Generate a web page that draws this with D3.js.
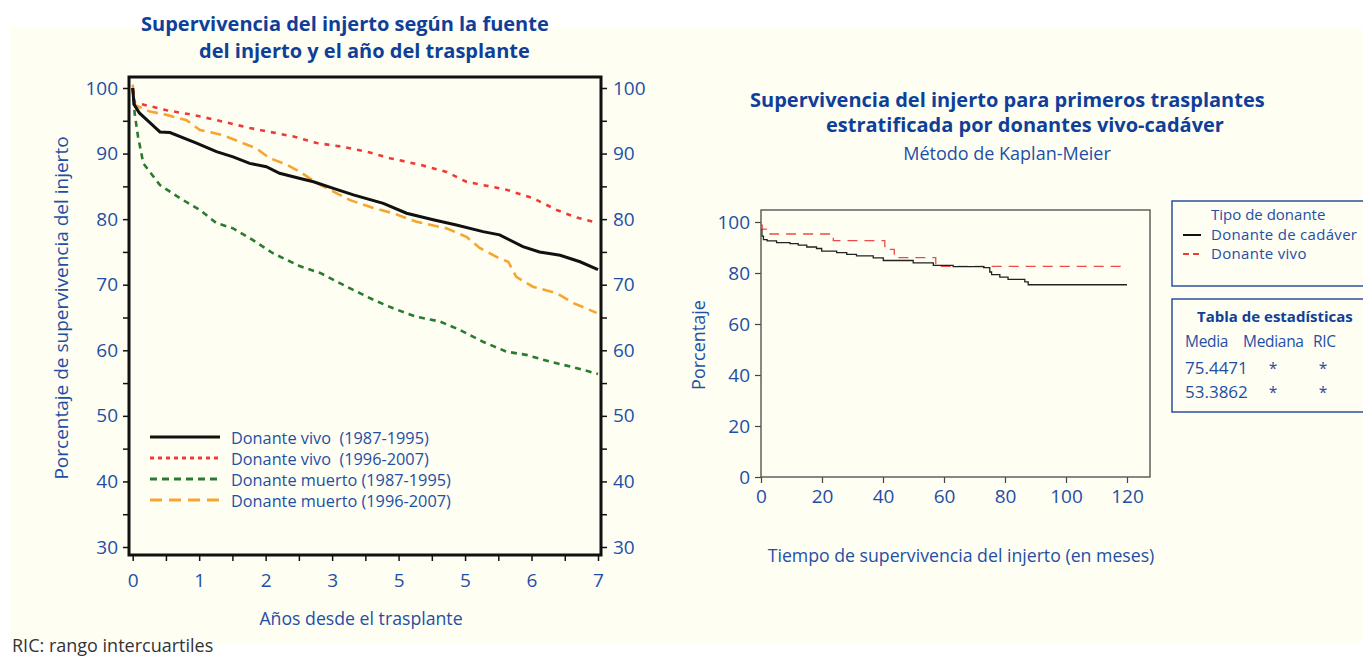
<!DOCTYPE html>
<html>
<head>
<meta charset="utf-8">
<script src="https://cdn.jsdelivr.net/npm/d3@7"></script>
<style>
  body { margin: 0; background: #fff; }
  svg text { font-family: "Open Sans", "Noto Sans", sans-serif; }
</style>
</head>
<body>
<div id="chart"></div>
<script>

// ---- left chart data (years, % survival) ----
var vivo8795 = [[0,100],[0.02,97.5],[0.1,96.2],[0.25,94.8],[0.41,93.3],[0.56,93.2],[0.96,91.6],[1.26,90.3],[1.51,89.5],[1.76,88.5],[2.01,88.0],[2.21,87.0],[2.52,86.2],[2.72,85.7],[3.02,84.7],[3.32,83.7],[3.77,82.4],[4.12,80.9],[4.52,79.9],[4.87,79.1],[5.27,78.1],[5.52,77.6],[5.87,75.8],[6.12,75.0],[6.43,74.5],[6.73,73.5],[7.0,72.3]];
var vivo9607 = [[0,100],[0.03,97.8],[0.51,96.6],[0.91,95.9],[1.26,95.1],[1.76,93.9],[2.42,92.6],[2.77,91.6],[3.12,91.1],[3.52,90.3],[3.87,89.3],[4.32,88.3],[4.72,87.2],[5.02,85.7],[5.27,85.2],[5.62,84.5],[6.02,83.2],[6.38,81.4],[6.63,80.4],[7.0,79.4]];
var muerto8795 = [[0,100],[0.03,96.1],[0.08,92.6],[0.16,88.5],[0.41,85.2],[0.71,83.2],[1.01,81.4],[1.26,79.4],[1.51,78.6],[1.81,76.8],[2.11,74.8],[2.52,72.8],[2.82,71.8],[3.22,69.7],[3.62,67.7],[3.92,66.4],[4.27,65.1],[4.62,64.4],[4.92,63.1],[5.27,61.3],[5.62,59.8],[5.92,59.3],[6.27,58.3],[6.63,57.4],[7.0,56.4]];
var muerto9607 = [[0,100.5],[0.03,97.4],[0.26,96.4],[0.51,95.9],[0.81,95.1],[1.01,93.6],[1.36,92.8],[1.61,91.8],[1.86,90.8],[2.06,89.3],[2.32,88.3],[2.52,87.2],[2.77,85.5],[3.02,84.2],[3.27,82.9],[3.62,81.7],[3.92,80.9],[4.27,79.6],[4.72,78.6],[5.02,77.3],[5.22,75.6],[5.52,74.0],[5.65,73.5],[5.77,71.2],[6.02,69.7],[6.38,68.7],[6.63,67.2],[6.98,65.7]];
var leftSeriesNames = ["Donante vivo  (1987-1995)", "Donante vivo  (1996-2007)", "Donante muerto (1987-1995)", "Donante muerto (1996-2007)"];
var leftXTicks = [0,1,2,3,4,5,6,7];
var leftXTickLabels = ["0","1","2","3","5","5","6","7"];   // as printed in the source
var leftYTicks = [30,40,50,60,70,80,90,100];

// ---- right chart data (months, %) ----
var cadaver = [[0,97],[0.3,94.5],[0.8,93.1],[2,92.6],[5.1,91.9],[9.5,91.5],[12.2,90.9],[15.0,90.2],[18.2,89.6],[19.9,88.6],[24.8,88.0],[28.1,87.3],[31.3,86.7],[36.8,85.9],[40.1,84.9],[49.9,84.0],[56.5,83.0],[63,82.5],[73,82.1],[75.0,80.4],[75.6,79.4],[78.3,78.4],[81.0,77.5],[86.5,76.5],[87.6,75.4],[120,75.4]];
var vivo = [[0,98.8],[0.4,97.2],[3.0,95.3],[23.7,92.7],[40.6,89.3],[43.7,86.0],[57.3,82.6],[120,82.6]];
var rightSeriesNames = ["Donante de cadáver", "Donante vivo"];
var rightXTicks = [0,20,40,60,80,100,120];
var rightYTicks = [0,20,40,60,80,100];
var statsHeader = ["Media", "Mediana", "RIC"];
var statsRows = [["75.4471","*","*"],["53.3862","*","*"]];

var blue = "#1f4fa5", titleBlue = "#0f3f98";

var svg = d3.select("#chart").append("svg")
    .attr("width", 1363)
    .attr("height", 659);

svg.append("rect")
    .attr("x", 10).attr("y", 27)
    .attr("width", 1353).attr("height", 616)
    .attr("fill", "#fefef3");

// ================= LEFT CHART =================
var xL = d3.scaleLinear().domain([0, 7]).range([132.7, 598]);
var yL = d3.scaleLinear().domain([30, 100]).range([547, 88]);
var fL = {x0: 129, x1: 601, y0: 77, y1: 555};

svg.append("text").attr("x", 141).attr("y", 31)
    .style("font-size", "20px").style("font-weight", "bold").attr("fill", titleBlue)
    .text("Supervivencia del injerto según la fuente");
svg.append("text").attr("x", 199).attr("y", 58)
    .style("font-size", "20px").style("font-weight", "bold").attr("fill", titleBlue)
    .text("del injerto y el año del trasplante");

// axes
var gyl = svg.append("g").attr("transform", "translate(" + fL.x0 + ",0)")
    .call(d3.axisLeft(yL).tickValues(d3.range(30, 101, 5)).tickSize(6).tickPadding(5)
        .tickFormat(function(d){ return d % 10 === 0 ? d : ""; }));
var gyr = svg.append("g").attr("transform", "translate(" + fL.x1 + ",0)")
    .call(d3.axisRight(yL).tickValues(d3.range(30, 101, 5)).tickSize(6).tickPadding(6)
        .tickFormat(function(d){ return d % 10 === 0 ? d : ""; }));
var gxl = svg.append("g").attr("transform", "translate(0," + fL.y1 + ")")
    .call(d3.axisBottom(xL).tickValues(d3.range(0, 7.01, 0.5)).tickSize(6).tickPadding(13)
        .tickFormat(function(d){ var i = leftXTicks.indexOf(d); return i < 0 ? "" : leftXTickLabels[i]; }));

[gyl, gyr, gxl].forEach(function(g){
  g.select(".domain").remove();
  g.selectAll(".tick line").attr("stroke", "#111").attr("stroke-width", 1.5);
  g.selectAll(".tick text").attr("fill", blue).style("font-size", "19px")
      .style("font-family", "'Open Sans', sans-serif");
});

svg.append("text")
    .attr("transform", "translate(68,308) rotate(-90)")
    .attr("text-anchor", "middle")
    .style("font-size", "19px").attr("fill", blue)
    .text("Porcentaje de supervivencia del injerto");
svg.append("text").attr("x", 361).attr("y", 625)
    .attr("text-anchor", "middle")
    .style("font-size", "17.7px").attr("fill", blue)
    .text("Años desde el trasplante");

var lineL = d3.line().x(function(d){ return xL(d[0]); }).y(function(d){ return yL(d[1]); });

var leftSeries = [
  {data: vivo8795, color: "#111", dash: null, w: 3},
  {data: vivo9607, color: "#ef3a36", dash: "5,6", w: 2.6},
  {data: muerto8795, color: "#2a7a30", dash: "6,5", w: 2.6},
  {data: muerto9607, color: "#f7a531", dash: "11,6", w: 2.6}
];
// draw back to front so black sits on top
[3, 2, 1, 0].forEach(function(i){
  var s = leftSeries[i];
  svg.append("path")
      .datum(s.data)
      .attr("d", lineL)
      .attr("fill", "none")
      .attr("stroke", s.color)
      .attr("stroke-width", s.w)
      .attr("stroke-dasharray", s.dash);
});

svg.append("rect")
    .attr("x", fL.x0).attr("y", fL.y0)
    .attr("width", fL.x1 - fL.x0).attr("height", fL.y1 - fL.y0)
    .attr("fill", "none").attr("stroke", "#111").attr("stroke-width", 3);

// legend
var legDash = [null, "4,4", "7,5", "12,7"];
leftSeriesNames.forEach(function(name, i){
  var y = 438 + i * 21;
  svg.append("line")
      .attr("x1", 150).attr("x2", 220).attr("y1", y - 1).attr("y2", y - 1)
      .attr("stroke", leftSeries[i].color).attr("stroke-width", 3)
      .attr("stroke-dasharray", legDash[i]);
  svg.append("text").attr("x", 231).attr("y", y + 6)
      .style("font-size", "16.3px").style("white-space", "pre").attr("fill", blue)
      .text(name);
});

// ================= RIGHT CHART =================
var xR = d3.scaleLinear().domain([0, 120]).range([761, 1127]);
var yR = d3.scaleLinear().domain([0, 100]).range([477, 222]);
var fR = {x0: 761, x1: 1150, y0: 210, y1: 477};

svg.append("text").attr("x", 750).attr("y", 107)
    .style("font-size", "20px").style("font-weight", "bold").attr("fill", titleBlue)
    .text("Supervivencia del injerto para primeros trasplantes");
svg.append("text").attr("x", 826).attr("y", 132)
    .style("font-size", "20px").style("font-weight", "bold").attr("fill", titleBlue)
    .text("estratificada por donantes vivo-cadáver");
svg.append("text").attr("x", 1007).attr("y", 160).attr("text-anchor", "middle")
    .style("font-size", "18px").attr("fill", blue)
    .text("Método de Kaplan-Meier");

var gyR = svg.append("g").attr("transform", "translate(" + fR.x0 + ",0)")
    .call(d3.axisLeft(yR).tickValues(rightYTicks).tickSize(6).tickPadding(5));
var gxR = svg.append("g").attr("transform", "translate(0," + fR.y1 + ")")
    .call(d3.axisBottom(xR).tickValues(rightXTicks).tickSize(6).tickPadding(7));
[gyR, gxR].forEach(function(g){
  g.select(".domain").remove();
  g.selectAll(".tick line").attr("stroke", "#444").attr("stroke-width", 1.2);
  g.selectAll(".tick text").attr("fill", blue).style("font-size", "19px")
      .style("font-family", "'Open Sans', sans-serif");
});

svg.append("text")
    .attr("transform", "translate(705,345) rotate(-90)")
    .attr("text-anchor", "middle")
    .style("font-size", "18px").attr("fill", blue)
    .text("Porcentaje");
svg.append("text").attr("x", 961).attr("y", 562)
    .attr("text-anchor", "middle")
    .style("font-size", "17.7px").attr("fill", blue)
    .text("Tiempo de supervivencia del injerto (en meses)");

var stepR = d3.line().curve(d3.curveStepAfter)
    .x(function(d){ return xR(d[0]); }).y(function(d){ return yR(d[1]); });

svg.append("path").datum(vivo).attr("d", stepR)
    .attr("fill", "none").attr("stroke", "#ef4a4a").attr("stroke-width", 1.3)
    .attr("stroke-dasharray", "10,7");
svg.append("path").datum(cadaver).attr("d", stepR)
    .attr("fill", "none").attr("stroke", "#222").attr("stroke-width", 1.3);

svg.append("rect")
    .attr("x", fR.x0).attr("y", fR.y0)
    .attr("width", fR.x1 - fR.x0).attr("height", fR.y1 - fR.y0)
    .attr("fill", "none").attr("stroke", "#555").attr("stroke-width", 1.4);

// legend box
svg.append("rect").attr("x", 1172).attr("y", 201).attr("width", 200).attr("height", 85)
    .attr("fill", "none").attr("stroke", "#2a50a0").attr("stroke-width", 1.5);
svg.append("text").attr("x", 1211).attr("y", 220)
    .style("font-size", "15px").attr("fill", blue).text("Tipo de donante");
var rightColors = ["#111", "#ef3a36"], rightDash = [null, "6,4"];
rightSeriesNames.forEach(function(name, i){
  var y = 235 + i * 19;
  svg.append("line").attr("x1", 1183).attr("x2", 1201).attr("y1", y).attr("y2", y)
      .attr("stroke", rightColors[i]).attr("stroke-width", 2)
      .attr("stroke-dasharray", rightDash[i]);
  svg.append("text").attr("x", 1211).attr("y", y + 5)
      .style("font-size", "15px").style("letter-spacing", "0.3px").attr("fill", blue).text(name);
});

// stats box
svg.append("rect").attr("x", 1172).attr("y", 299).attr("width", 200).attr("height", 113)
    .attr("fill", "none").attr("stroke", "#2a50a0").attr("stroke-width", 1.5);
svg.append("text").attr("x", 1197).attr("y", 322)
    .style("font-size", "15px").style("font-weight", "bold").attr("fill", titleBlue)
    .text("Tabla de estadísticas");
var colX = [1185, 1243, 1313];
statsHeader.forEach(function(h, j){
  svg.append("text").attr("x", colX[j]).attr("y", 347)
      .style("font-size", "15.5px").style("letter-spacing", "-0.3px").attr("fill", blue).text(h);
});
var valX = [1185, 1273, 1323];
statsRows.forEach(function(row, i){
  row.forEach(function(v, j){
    svg.append("text").attr("x", valX[j]).attr("y", 374 + i * 24)
        .attr("text-anchor", j === 0 ? "start" : "middle")
        .style("font-size", j === 0 ? "17px" : "15.5px").attr("fill", blue).text(v);
  });
});

svg.append("text").attr("x", 12).attr("y", 652)
    .style("font-size", "18px").attr("fill", "#333")
    .text("RIC: rango intercuartiles");

</script>
</body>
</html>
